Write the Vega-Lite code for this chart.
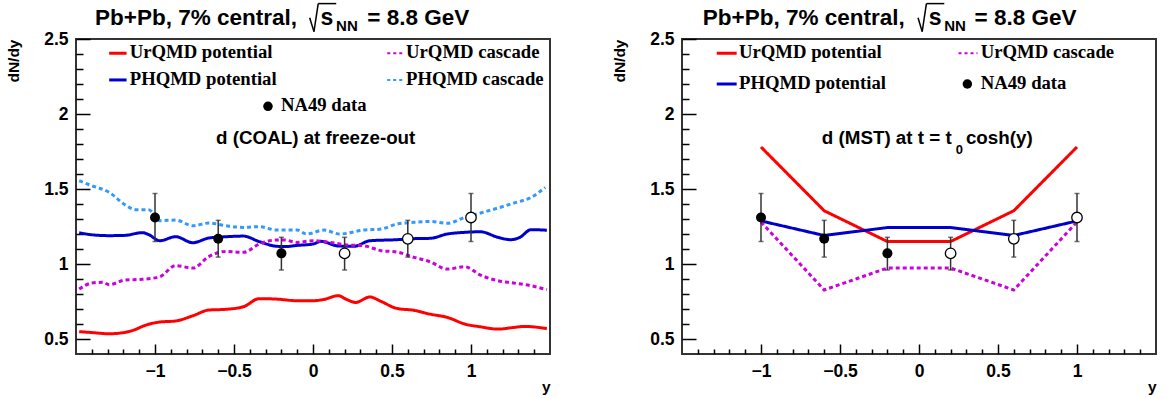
{
  "$schema": "https://vega.github.io/schema/vega-lite/v6.json",
  "padding": {"left": 5, "top": 1, "right": 5, "bottom": 2},
  "spacing": 57,
  "config": {
    "view": {"stroke": "#333", "strokeWidth": 2},
    "axis": {"domain": false, "grid": false, "ticks": true, "zindex": 1, "tickColor": "black", "tickWidth": 1.5, "labelFont": "Liberation Sans", "labelFontWeight": "bold", "labelFontSize": 17.5, "labelColor": "black", "titleFont": "Liberation Sans", "titleFontWeight": "bold", "titleColor": "black", "titleFontSize": 15.5, "labelBound": false, "labelFlush": false},
    "text": {"font": "Liberation Sans", "fontWeight": "bold", "color": "black", "baseline": "alphabetic"}
  },
  "datasets": {
    "curves": [
      {"panel": "COAL", "model": "UrQMD potential", "rapidity": -1.48, "dNdy": 0.549},
      {"panel": "COAL", "model": "UrQMD potential", "rapidity": -1.40, "dNdy": 0.543},
      {"panel": "COAL", "model": "UrQMD potential", "rapidity": -1.29, "dNdy": 0.535},
      {"panel": "COAL", "model": "UrQMD potential", "rapidity": -1.19, "dNdy": 0.544},
      {"panel": "COAL", "model": "UrQMD potential", "rapidity": -1.12, "dNdy": 0.565},
      {"panel": "COAL", "model": "UrQMD potential", "rapidity": -1.08, "dNdy": 0.584},
      {"panel": "COAL", "model": "UrQMD potential", "rapidity": -0.97, "dNdy": 0.613},
      {"panel": "COAL", "model": "UrQMD potential", "rapidity": -0.87, "dNdy": 0.620},
      {"panel": "COAL", "model": "UrQMD potential", "rapidity": -0.76, "dNdy": 0.655},
      {"panel": "COAL", "model": "UrQMD potential", "rapidity": -0.66, "dNdy": 0.693},
      {"panel": "COAL", "model": "UrQMD potential", "rapidity": -0.55, "dNdy": 0.698},
      {"panel": "COAL", "model": "UrQMD potential", "rapidity": -0.44, "dNdy": 0.715},
      {"panel": "COAL", "model": "UrQMD potential", "rapidity": -0.34, "dNdy": 0.769},
      {"panel": "COAL", "model": "UrQMD potential", "rapidity": -0.23, "dNdy": 0.766},
      {"panel": "COAL", "model": "UrQMD potential", "rapidity": -0.10, "dNdy": 0.755},
      {"panel": "COAL", "model": "UrQMD potential", "rapidity": 0.00, "dNdy": 0.755},
      {"panel": "COAL", "model": "UrQMD potential", "rapidity": 0.07, "dNdy": 0.764},
      {"panel": "COAL", "model": "UrQMD potential", "rapidity": 0.16, "dNdy": 0.789},
      {"panel": "COAL", "model": "UrQMD potential", "rapidity": 0.21, "dNdy": 0.765},
      {"panel": "COAL", "model": "UrQMD potential", "rapidity": 0.27, "dNdy": 0.744},
      {"panel": "COAL", "model": "UrQMD potential", "rapidity": 0.36, "dNdy": 0.780},
      {"panel": "COAL", "model": "UrQMD potential", "rapidity": 0.43, "dNdy": 0.751},
      {"panel": "COAL", "model": "UrQMD potential", "rapidity": 0.53, "dNdy": 0.704},
      {"panel": "COAL", "model": "UrQMD potential", "rapidity": 0.64, "dNdy": 0.691},
      {"panel": "COAL", "model": "UrQMD potential", "rapidity": 0.74, "dNdy": 0.666},
      {"panel": "COAL", "model": "UrQMD potential", "rapidity": 0.85, "dNdy": 0.644},
      {"panel": "COAL", "model": "UrQMD potential", "rapidity": 0.96, "dNdy": 0.600},
      {"panel": "COAL", "model": "UrQMD potential", "rapidity": 1.06, "dNdy": 0.581},
      {"panel": "COAL", "model": "UrQMD potential", "rapidity": 1.17, "dNdy": 0.566},
      {"panel": "COAL", "model": "UrQMD potential", "rapidity": 1.27, "dNdy": 0.577},
      {"panel": "COAL", "model": "UrQMD potential", "rapidity": 1.34, "dNdy": 0.584},
      {"panel": "COAL", "model": "UrQMD potential", "rapidity": 1.48, "dNdy": 0.569},

      {"panel": "COAL", "model": "PHQMD potential", "rapidity": -1.48, "dNdy": 1.208},
      {"panel": "COAL", "model": "PHQMD potential", "rapidity": -1.40, "dNdy": 1.195},
      {"panel": "COAL", "model": "PHQMD potential", "rapidity": -1.29, "dNdy": 1.189},
      {"panel": "COAL", "model": "PHQMD potential", "rapidity": -1.19, "dNdy": 1.191},
      {"panel": "COAL", "model": "PHQMD potential", "rapidity": -1.08, "dNdy": 1.209},
      {"panel": "COAL", "model": "PHQMD potential", "rapidity": -1.04, "dNdy": 1.196},
      {"panel": "COAL", "model": "PHQMD potential", "rapidity": -0.97, "dNdy": 1.155},
      {"panel": "COAL", "model": "PHQMD potential", "rapidity": -0.87, "dNdy": 1.182},
      {"panel": "COAL", "model": "PHQMD potential", "rapidity": -0.76, "dNdy": 1.142},
      {"panel": "COAL", "model": "PHQMD potential", "rapidity": -0.66, "dNdy": 1.173},
      {"panel": "COAL", "model": "PHQMD potential", "rapidity": -0.55, "dNdy": 1.182},
      {"panel": "COAL", "model": "PHQMD potential", "rapidity": -0.44, "dNdy": 1.186},
      {"panel": "COAL", "model": "PHQMD potential", "rapidity": -0.34, "dNdy": 1.149},
      {"panel": "COAL", "model": "PHQMD potential", "rapidity": -0.23, "dNdy": 1.118},
      {"panel": "COAL", "model": "PHQMD potential", "rapidity": -0.18, "dNdy": 1.116},
      {"panel": "COAL", "model": "PHQMD potential", "rapidity": -0.10, "dNdy": 1.124},
      {"panel": "COAL", "model": "PHQMD potential", "rapidity": 0.00, "dNdy": 1.133},
      {"panel": "COAL", "model": "PHQMD potential", "rapidity": 0.05, "dNdy": 1.151},
      {"panel": "COAL", "model": "PHQMD potential", "rapidity": 0.16, "dNdy": 1.120},
      {"panel": "COAL", "model": "PHQMD potential", "rapidity": 0.26, "dNdy": 1.118},
      {"panel": "COAL", "model": "PHQMD potential", "rapidity": 0.36, "dNdy": 1.155},
      {"panel": "COAL", "model": "PHQMD potential", "rapidity": 0.53, "dNdy": 1.162},
      {"panel": "COAL", "model": "PHQMD potential", "rapidity": 0.64, "dNdy": 1.169},
      {"panel": "COAL", "model": "PHQMD potential", "rapidity": 0.74, "dNdy": 1.171},
      {"panel": "COAL", "model": "PHQMD potential", "rapidity": 0.85, "dNdy": 1.200},
      {"panel": "COAL", "model": "PHQMD potential", "rapidity": 0.96, "dNdy": 1.211},
      {"panel": "COAL", "model": "PHQMD potential", "rapidity": 1.06, "dNdy": 1.215},
      {"panel": "COAL", "model": "PHQMD potential", "rapidity": 1.17, "dNdy": 1.178},
      {"panel": "COAL", "model": "PHQMD potential", "rapidity": 1.25, "dNdy": 1.162},
      {"panel": "COAL", "model": "PHQMD potential", "rapidity": 1.31, "dNdy": 1.178},
      {"panel": "COAL", "model": "PHQMD potential", "rapidity": 1.38, "dNdy": 1.229},
      {"panel": "COAL", "model": "PHQMD potential", "rapidity": 1.48, "dNdy": 1.225},

      {"panel": "COAL", "model": "UrQMD cascade", "rapidity": -1.48, "dNdy": 0.833},
      {"panel": "COAL", "model": "UrQMD cascade", "rapidity": -1.40, "dNdy": 0.873},
      {"panel": "COAL", "model": "UrQMD cascade", "rapidity": -1.33, "dNdy": 0.878},
      {"panel": "COAL", "model": "UrQMD cascade", "rapidity": -1.29, "dNdy": 0.862},
      {"panel": "COAL", "model": "UrQMD cascade", "rapidity": -1.19, "dNdy": 0.893},
      {"panel": "COAL", "model": "UrQMD cascade", "rapidity": -1.08, "dNdy": 0.898},
      {"panel": "COAL", "model": "UrQMD cascade", "rapidity": -0.97, "dNdy": 0.915},
      {"panel": "COAL", "model": "UrQMD cascade", "rapidity": -0.87, "dNdy": 0.989},
      {"panel": "COAL", "model": "UrQMD cascade", "rapidity": -0.76, "dNdy": 0.973},
      {"panel": "COAL", "model": "UrQMD cascade", "rapidity": -0.66, "dNdy": 1.049},
      {"panel": "COAL", "model": "UrQMD cascade", "rapidity": -0.55, "dNdy": 1.084},
      {"panel": "COAL", "model": "UrQMD cascade", "rapidity": -0.44, "dNdy": 1.078},
      {"panel": "COAL", "model": "UrQMD cascade", "rapidity": -0.34, "dNdy": 1.133},
      {"panel": "COAL", "model": "UrQMD cascade", "rapidity": -0.23, "dNdy": 1.160},
      {"panel": "COAL", "model": "UrQMD cascade", "rapidity": -0.18, "dNdy": 1.160},
      {"panel": "COAL", "model": "UrQMD cascade", "rapidity": -0.10, "dNdy": 1.144},
      {"panel": "COAL", "model": "UrQMD cascade", "rapidity": 0.00, "dNdy": 1.155},
      {"panel": "COAL", "model": "UrQMD cascade", "rapidity": 0.11, "dNdy": 1.144},
      {"panel": "COAL", "model": "UrQMD cascade", "rapidity": 0.21, "dNdy": 1.127},
      {"panel": "COAL", "model": "UrQMD cascade", "rapidity": 0.32, "dNdy": 1.122},
      {"panel": "COAL", "model": "UrQMD cascade", "rapidity": 0.43, "dNdy": 1.089},
      {"panel": "COAL", "model": "UrQMD cascade", "rapidity": 0.53, "dNdy": 1.080},
      {"panel": "COAL", "model": "UrQMD cascade", "rapidity": 0.64, "dNdy": 1.044},
      {"panel": "COAL", "model": "UrQMD cascade", "rapidity": 0.74, "dNdy": 1.015},
      {"panel": "COAL", "model": "UrQMD cascade", "rapidity": 0.85, "dNdy": 0.966},
      {"panel": "COAL", "model": "UrQMD cascade", "rapidity": 0.96, "dNdy": 0.982},
      {"panel": "COAL", "model": "UrQMD cascade", "rapidity": 1.06, "dNdy": 0.926},
      {"panel": "COAL", "model": "UrQMD cascade", "rapidity": 1.17, "dNdy": 0.889},
      {"panel": "COAL", "model": "UrQMD cascade", "rapidity": 1.27, "dNdy": 0.873},
      {"panel": "COAL", "model": "UrQMD cascade", "rapidity": 1.38, "dNdy": 0.855},
      {"panel": "COAL", "model": "UrQMD cascade", "rapidity": 1.48, "dNdy": 0.829},

      {"panel": "COAL", "model": "PHQMD cascade", "rapidity": -1.48, "dNdy": 1.555},
      {"panel": "COAL", "model": "PHQMD cascade", "rapidity": -1.40, "dNdy": 1.522},
      {"panel": "COAL", "model": "PHQMD cascade", "rapidity": -1.29, "dNdy": 1.478},
      {"panel": "COAL", "model": "PHQMD cascade", "rapidity": -1.19, "dNdy": 1.395},
      {"panel": "COAL", "model": "PHQMD cascade", "rapidity": -1.12, "dNdy": 1.362},
      {"panel": "COAL", "model": "PHQMD cascade", "rapidity": -1.04, "dNdy": 1.362},
      {"panel": "COAL", "model": "PHQMD cascade", "rapidity": -0.97, "dNdy": 1.289},
      {"panel": "COAL", "model": "PHQMD cascade", "rapidity": -0.87, "dNdy": 1.293},
      {"panel": "COAL", "model": "PHQMD cascade", "rapidity": -0.76, "dNdy": 1.255},
      {"panel": "COAL", "model": "PHQMD cascade", "rapidity": -0.66, "dNdy": 1.273},
      {"panel": "COAL", "model": "PHQMD cascade", "rapidity": -0.55, "dNdy": 1.255},
      {"panel": "COAL", "model": "PHQMD cascade", "rapidity": -0.44, "dNdy": 1.244},
      {"panel": "COAL", "model": "PHQMD cascade", "rapidity": -0.34, "dNdy": 1.249},
      {"panel": "COAL", "model": "PHQMD cascade", "rapidity": -0.23, "dNdy": 1.226},
      {"panel": "COAL", "model": "PHQMD cascade", "rapidity": -0.10, "dNdy": 1.226},
      {"panel": "COAL", "model": "PHQMD cascade", "rapidity": -0.04, "dNdy": 1.200},
      {"panel": "COAL", "model": "PHQMD cascade", "rapidity": 0.07, "dNdy": 1.226},
      {"panel": "COAL", "model": "PHQMD cascade", "rapidity": 0.17, "dNdy": 1.200},
      {"panel": "COAL", "model": "PHQMD cascade", "rapidity": 0.32, "dNdy": 1.226},
      {"panel": "COAL", "model": "PHQMD cascade", "rapidity": 0.43, "dNdy": 1.233},
      {"panel": "COAL", "model": "PHQMD cascade", "rapidity": 0.53, "dNdy": 1.266},
      {"panel": "COAL", "model": "PHQMD cascade", "rapidity": 0.64, "dNdy": 1.278},
      {"panel": "COAL", "model": "PHQMD cascade", "rapidity": 0.74, "dNdy": 1.284},
      {"panel": "COAL", "model": "PHQMD cascade", "rapidity": 0.85, "dNdy": 1.271},
      {"panel": "COAL", "model": "PHQMD cascade", "rapidity": 0.96, "dNdy": 1.311},
      {"panel": "COAL", "model": "PHQMD cascade", "rapidity": 1.06, "dNdy": 1.340},
      {"panel": "COAL", "model": "PHQMD cascade", "rapidity": 1.17, "dNdy": 1.373},
      {"panel": "COAL", "model": "PHQMD cascade", "rapidity": 1.27, "dNdy": 1.406},
      {"panel": "COAL", "model": "PHQMD cascade", "rapidity": 1.38, "dNdy": 1.444},
      {"panel": "COAL", "model": "PHQMD cascade", "rapidity": 1.47, "dNdy": 1.511},

      {"panel": "MST", "model": "UrQMD potential", "rapidity": -1.0, "dNdy": 1.78},
      {"panel": "MST", "model": "UrQMD potential", "rapidity": -0.6, "dNdy": 1.355},
      {"panel": "MST", "model": "UrQMD potential", "rapidity": -0.2, "dNdy": 1.15},
      {"panel": "MST", "model": "UrQMD potential", "rapidity": 0.2, "dNdy": 1.15},
      {"panel": "MST", "model": "UrQMD potential", "rapidity": 0.6, "dNdy": 1.355},
      {"panel": "MST", "model": "UrQMD potential", "rapidity": 1.0, "dNdy": 1.78},
      {"panel": "MST", "model": "PHQMD potential", "rapidity": -1.0, "dNdy": 1.287},
      {"panel": "MST", "model": "PHQMD potential", "rapidity": -0.6, "dNdy": 1.19},
      {"panel": "MST", "model": "PHQMD potential", "rapidity": -0.2, "dNdy": 1.243},
      {"panel": "MST", "model": "PHQMD potential", "rapidity": 0.2, "dNdy": 1.243},
      {"panel": "MST", "model": "PHQMD potential", "rapidity": 0.6, "dNdy": 1.19},
      {"panel": "MST", "model": "PHQMD potential", "rapidity": 1.0, "dNdy": 1.287},
      {"panel": "MST", "model": "UrQMD cascade", "rapidity": -1.0, "dNdy": 1.28},
      {"panel": "MST", "model": "UrQMD cascade", "rapidity": -0.6, "dNdy": 0.827},
      {"panel": "MST", "model": "UrQMD cascade", "rapidity": -0.2, "dNdy": 0.973},
      {"panel": "MST", "model": "UrQMD cascade", "rapidity": 0.2, "dNdy": 0.973},
      {"panel": "MST", "model": "UrQMD cascade", "rapidity": 0.6, "dNdy": 0.827},
      {"panel": "MST", "model": "UrQMD cascade", "rapidity": 1.0, "dNdy": 1.28}
    ],
    "na49": [
      {"rapidity": -1.0, "dNdy": 1.31, "lo": 1.15, "hi": 1.47, "kind": "measured"},
      {"rapidity": -0.6, "dNdy": 1.168, "lo": 1.046, "hi": 1.291, "kind": "measured"},
      {"rapidity": -0.2, "dNdy": 1.071, "lo": 0.96, "hi": 1.178, "kind": "measured"},
      {"rapidity": 0.2, "dNdy": 1.071, "lo": 0.96, "hi": 1.178, "kind": "reflected"},
      {"rapidity": 0.6, "dNdy": 1.168, "lo": 1.046, "hi": 1.291, "kind": "reflected"},
      {"rapidity": 1.0, "dNdy": 1.31, "lo": 1.15, "hi": 1.47, "kind": "reflected"}
    ]
  },
  "hconcat": [
    {
      "width": 474,
      "height": 315,
      "resolve": {"axis": {"x": "independent", "y": "independent"}},
      "layer": [
        {
          "data": {"name": "curves"},
          "transform": [{"filter": "datum.panel == 'COAL'"}],
          "mark": {"type": "line", "strokeWidth": 3, "interpolate": "monotone"},
          "encoding": {
            "x": {"field": "rapidity", "type": "quantitative", "scale": {"domain": [-1.5, 1.5], "nice": false, "zero": false},
              "axis": {"orient": "bottom", "title": "y", "titleAnchor": "end", "titleAlign": "right", "titlePadding": 0, "format": "~g",
                "values": [-1, -0.5, 0, 0.5, 1], "tickSize": -10, "labelPadding": 18}},
            "y": {"field": "dNdy", "type": "quantitative", "scale": {"domain": [0.4, 2.5], "nice": false, "zero": false},
              "axis": {"orient": "left", "title": "dN/dy", "titleAnchor": "end", "titlePadding": 22, "format": "~g",
                "values": [0.5, 1, 1.5, 2, 2.5], "tickSize": -14, "labelPadding": 22}},
            "color": {"field": "model", "type": "nominal", "legend": null,
              "scale": {"domain": ["UrQMD potential", "UrQMD cascade", "PHQMD potential", "PHQMD cascade"], "range": ["#ff0000", "#cc00dd", "#0000cc", "#3399ff"]}},
            "strokeDash": {"field": "model", "type": "nominal", "legend": null,
              "scale": {"domain": ["UrQMD potential", "UrQMD cascade", "PHQMD potential", "PHQMD cascade"], "range": [[1, 0], [4, 3], [1, 0], [4, 3]]}}
          }
        },
        {
          "data": {"name": "na49"},
          "mark": {"type": "rule", "color": "#333", "strokeWidth": 1.5},
          "encoding": {
            "x": {"field": "rapidity", "type": "quantitative",
              "axis": {"orient": "bottom", "title": null, "labels": false, "tickSize": -5,
                "values": [-1.4, -1.3, -1.2, -1.1, -0.9, -0.8, -0.7, -0.6, -0.4, -0.3, -0.2, -0.1, 0.1, 0.2, 0.3, 0.4, 0.6, 0.7, 0.8, 0.9, 1.1, 1.2, 1.3, 1.4]}},
            "y": {"field": "lo", "type": "quantitative",
              "axis": {"orient": "left", "title": null, "labels": false, "tickSize": -7,
                "values": [0.6, 0.7, 0.8, 0.9, 1.1, 1.2, 1.3, 1.4, 1.6, 1.7, 1.8, 1.9, 2.1, 2.2, 2.3, 2.4]}},
            "y2": {"field": "hi"}
          }
        },
        {
          "data": {"name": "na49"},
          "mark": {"type": "tick", "color": "#333", "orient": "horizontal", "size": 5, "thickness": 1.5},
          "encoding": {"x": {"field": "rapidity", "type": "quantitative", "axis": null}, "y": {"field": "lo", "type": "quantitative", "axis": null}}
        },
        {
          "data": {"name": "na49"},
          "mark": {"type": "tick", "color": "#333", "orient": "horizontal", "size": 5, "thickness": 1.5},
          "encoding": {"x": {"field": "rapidity", "type": "quantitative", "axis": null}, "y": {"field": "hi", "type": "quantitative", "axis": null}}
        },
        {
          "data": {"name": "na49"},
          "transform": [{"filter": "datum.kind == 'measured'"}],
          "mark": {"type": "circle", "color": "black", "opacity": 1, "size": 100},
          "encoding": {"x": {"field": "rapidity", "type": "quantitative", "axis": null}, "y": {"field": "dNdy", "type": "quantitative", "axis": null}}
        },
        {
          "data": {"name": "na49"},
          "transform": [{"filter": "datum.kind == 'reflected'"}],
          "mark": {"type": "point", "shape": "circle", "filled": true, "fill": "white", "stroke": "black", "strokeWidth": 1.3, "opacity": 1, "size": 110},
          "encoding": {"x": {"field": "rapidity", "type": "quantitative", "axis": null}, "y": {"field": "dNdy", "type": "quantitative", "axis": null}}
        },
        {"data": {"values": [{}]}, "mark": {"type": "rule", "color": "#ff0000", "strokeWidth": 3}, "encoding": {"x": {"datum": -1.29, "axis": null}, "x2": {"datum": -1.18}, "y": {"datum": 2.405, "axis": null}}},
        {"data": {"values": [{}]}, "mark": {"type": "rule", "color": "#0000cc", "strokeWidth": 3}, "encoding": {"x": {"datum": -1.29, "axis": null}, "x2": {"datum": -1.18}, "y": {"datum": 2.227, "axis": null}}},
        {"data": {"values": [{}]}, "mark": {"type": "rule", "color": "#cc00dd", "strokeWidth": 2, "strokeDash": [3, 3]}, "encoding": {"x": {"datum": 0.47, "axis": null}, "x2": {"datum": 0.565}, "y": {"datum": 2.405, "axis": null}}},
        {"data": {"values": [{}]}, "mark": {"type": "rule", "color": "#3399ff", "strokeWidth": 2, "strokeDash": [3, 3]}, "encoding": {"x": {"datum": 0.47, "axis": null}, "x2": {"datum": 0.565}, "y": {"datum": 2.227, "axis": null}}},
        {"data": {"values": [{}]}, "mark": {"type": "circle", "color": "black", "opacity": 1, "size": 90}, "encoding": {"x": {"datum": -0.285, "axis": null}, "y": {"datum": 2.051, "axis": null}}},
        {"data": {"values": [{}]}, "mark": {"type": "text", "font": "Liberation Serif", "fontSize": 18.7, "align": "left"}, "encoding": {"x": {"datum": -1.16, "axis": null}, "y": {"datum": 2.371, "axis": null}, "text": {"value": "UrQMD potential"}}},
        {"data": {"values": [{}]}, "mark": {"type": "text", "font": "Liberation Serif", "fontSize": 18.7, "align": "left"}, "encoding": {"x": {"datum": -1.16, "axis": null}, "y": {"datum": 2.193, "axis": null}, "text": {"value": "PHQMD potential"}}},
        {"data": {"values": [{}]}, "mark": {"type": "text", "font": "Liberation Serif", "fontSize": 18.7, "align": "left"}, "encoding": {"x": {"datum": 0.589, "axis": null}, "y": {"datum": 2.371, "axis": null}, "text": {"value": "UrQMD cascade"}}},
        {"data": {"values": [{}]}, "mark": {"type": "text", "font": "Liberation Serif", "fontSize": 18.7, "align": "left"}, "encoding": {"x": {"datum": 0.589, "axis": null}, "y": {"datum": 2.193, "axis": null}, "text": {"value": "PHQMD cascade"}}},
        {"data": {"values": [{}]}, "mark": {"type": "text", "font": "Liberation Serif", "fontSize": 18.7, "align": "left"}, "encoding": {"x": {"datum": -0.203, "axis": null}, "y": {"datum": 2.02, "axis": null}, "text": {"value": "NA49 data"}}},
        {"data": {"values": [{}]}, "mark": {"type": "text", "fontSize": 18.8, "align": "center"}, "encoding": {"x": {"datum": 0.017, "axis": null}, "y": {"datum": 1.798, "axis": null}, "text": {"value": "d (COAL) at freeze-out"}}},
        {"data": {"values": [{}]}, "mark": {"type": "text", "fontSize": 22.5, "align": "right"}, "encoding": {"x": {"datum": -0.101, "axis": null}, "y": {"datum": 2.593, "axis": null}, "text": {"value": "Pb+Pb, 7% central,"}}},
        {"data": {"values": [{}]}, "mark": {"type": "rule", "color": "black", "strokeWidth": 1.5}, "encoding": {"x": {"datum": -0.021, "axis": null}, "y": {"datum": 2.642, "axis": null}, "x2": {"datum": 0.006}, "y2": {"datum": 2.549}}},
        {"data": {"values": [{}]}, "mark": {"type": "rule", "color": "black", "strokeWidth": 1.5}, "encoding": {"x": {"datum": 0.006, "axis": null}, "y": {"datum": 2.549, "axis": null}, "x2": {"datum": 0.033}, "y2": {"datum": 2.736}}},
        {"data": {"values": [{}]}, "mark": {"type": "rule", "color": "black", "strokeWidth": 1.5}, "encoding": {"x": {"datum": 0.033, "axis": null}, "y": {"datum": 2.736, "axis": null}, "x2": {"datum": 0.147}, "y2": {"datum": 2.736}}},
        {"data": {"values": [{}]}, "mark": {"type": "text", "fontSize": 23, "align": "center"}, "encoding": {"x": {"datum": 0.088, "axis": null}, "y": {"datum": 2.593, "axis": null}, "text": {"value": "s"}}},
        {"data": {"values": [{}]}, "mark": {"type": "text", "fontSize": 15, "align": "left"}, "encoding": {"x": {"datum": 0.146, "axis": null}, "y": {"datum": 2.553, "axis": null}, "text": {"value": "NN"}}},
        {"data": {"values": [{}]}, "mark": {"type": "text", "fontSize": 22.5, "align": "left"}, "encoding": {"x": {"datum": 0.344, "axis": null}, "y": {"datum": 2.593, "axis": null}, "text": {"value": "= 8.8 GeV"}}}
      ]
    },
    {
      "width": 474,
      "height": 315,
      "resolve": {"axis": {"x": "independent", "y": "independent"}},
      "layer": [
        {
          "data": {"name": "curves"},
          "transform": [{"filter": "datum.panel == 'MST'"}],
          "mark": {"type": "line", "strokeWidth": 3},
          "encoding": {
            "x": {"field": "rapidity", "type": "quantitative", "scale": {"domain": [-1.5, 1.5], "nice": false, "zero": false},
              "axis": {"orient": "bottom", "title": "y", "titleAnchor": "end", "titleAlign": "right", "titlePadding": 0, "format": "~g",
                "values": [-1, -0.5, 0, 0.5, 1], "tickSize": -10, "labelPadding": 18}},
            "y": {"field": "dNdy", "type": "quantitative", "scale": {"domain": [0.4, 2.5], "nice": false, "zero": false},
              "axis": {"orient": "left", "title": "dN/dy", "titleAnchor": "end", "titlePadding": 22, "format": "~g",
                "values": [0.5, 1, 1.5, 2, 2.5], "tickSize": -14, "labelPadding": 22}},
            "color": {"field": "model", "type": "nominal", "legend": null,
              "scale": {"domain": ["UrQMD potential", "UrQMD cascade", "PHQMD potential", "PHQMD cascade"], "range": ["#ff0000", "#cc00dd", "#0000cc", "#3399ff"]}},
            "strokeDash": {"field": "model", "type": "nominal", "legend": null,
              "scale": {"domain": ["UrQMD potential", "UrQMD cascade", "PHQMD potential", "PHQMD cascade"], "range": [[1, 0], [4, 3], [1, 0], [4, 3]]}}
          }
        },
        {
          "data": {"name": "na49"},
          "mark": {"type": "rule", "color": "#333", "strokeWidth": 1.5},
          "encoding": {
            "x": {"field": "rapidity", "type": "quantitative",
              "axis": {"orient": "bottom", "title": null, "labels": false, "tickSize": -5,
                "values": [-1.4, -1.3, -1.2, -1.1, -0.9, -0.8, -0.7, -0.6, -0.4, -0.3, -0.2, -0.1, 0.1, 0.2, 0.3, 0.4, 0.6, 0.7, 0.8, 0.9, 1.1, 1.2, 1.3, 1.4]}},
            "y": {"field": "lo", "type": "quantitative",
              "axis": {"orient": "left", "title": null, "labels": false, "tickSize": -7,
                "values": [0.6, 0.7, 0.8, 0.9, 1.1, 1.2, 1.3, 1.4, 1.6, 1.7, 1.8, 1.9, 2.1, 2.2, 2.3, 2.4]}},
            "y2": {"field": "hi"}
          }
        },
        {
          "data": {"name": "na49"},
          "mark": {"type": "tick", "color": "#333", "orient": "horizontal", "size": 5, "thickness": 1.5},
          "encoding": {"x": {"field": "rapidity", "type": "quantitative", "axis": null}, "y": {"field": "lo", "type": "quantitative", "axis": null}}
        },
        {
          "data": {"name": "na49"},
          "mark": {"type": "tick", "color": "#333", "orient": "horizontal", "size": 5, "thickness": 1.5},
          "encoding": {"x": {"field": "rapidity", "type": "quantitative", "axis": null}, "y": {"field": "hi", "type": "quantitative", "axis": null}}
        },
        {
          "data": {"name": "na49"},
          "transform": [{"filter": "datum.kind == 'measured'"}],
          "mark": {"type": "circle", "color": "black", "opacity": 1, "size": 100},
          "encoding": {"x": {"field": "rapidity", "type": "quantitative", "axis": null}, "y": {"field": "dNdy", "type": "quantitative", "axis": null}}
        },
        {
          "data": {"name": "na49"},
          "transform": [{"filter": "datum.kind == 'reflected'"}],
          "mark": {"type": "point", "shape": "circle", "filled": true, "fill": "white", "stroke": "black", "strokeWidth": 1.3, "opacity": 1, "size": 110},
          "encoding": {"x": {"field": "rapidity", "type": "quantitative", "axis": null}, "y": {"field": "dNdy", "type": "quantitative", "axis": null}}
        },
        {"data": {"values": [{}]}, "mark": {"type": "rule", "color": "#ff0000", "strokeWidth": 3}, "encoding": {"x": {"datum": -1.28, "axis": null}, "x2": {"datum": -1.154}, "y": {"datum": 2.405, "axis": null}}},
        {"data": {"values": [{}]}, "mark": {"type": "rule", "color": "#0000cc", "strokeWidth": 3}, "encoding": {"x": {"datum": -1.28, "axis": null}, "x2": {"datum": -1.154}, "y": {"datum": 2.2, "axis": null}}},
        {"data": {"values": [{}]}, "mark": {"type": "rule", "color": "#cc00dd", "strokeWidth": 2, "strokeDash": [3, 3]}, "encoding": {"x": {"datum": 0.25, "axis": null}, "x2": {"datum": 0.37}, "y": {"datum": 2.405, "axis": null}}},
        {"data": {"values": [{}]}, "mark": {"type": "circle", "color": "black", "opacity": 1, "size": 90}, "encoding": {"x": {"datum": 0.306, "axis": null}, "y": {"datum": 2.2, "axis": null}}},
        {"data": {"values": [{}]}, "mark": {"type": "text", "font": "Liberation Serif", "fontSize": 18.7, "align": "left"}, "encoding": {"x": {"datum": -1.139, "axis": null}, "y": {"datum": 2.371, "axis": null}, "text": {"value": "UrQMD potential"}}},
        {"data": {"values": [{}]}, "mark": {"type": "text", "font": "Liberation Serif", "fontSize": 18.7, "align": "left"}, "encoding": {"x": {"datum": -1.139, "axis": null}, "y": {"datum": 2.166, "axis": null}, "text": {"value": "PHQMD potential"}}},
        {"data": {"values": [{}]}, "mark": {"type": "text", "font": "Liberation Serif", "fontSize": 18.7, "align": "left"}, "encoding": {"x": {"datum": 0.391, "axis": null}, "y": {"datum": 2.371, "axis": null}, "text": {"value": "UrQMD cascade"}}},
        {"data": {"values": [{}]}, "mark": {"type": "text", "font": "Liberation Serif", "fontSize": 18.7, "align": "left"}, "encoding": {"x": {"datum": 0.391, "axis": null}, "y": {"datum": 2.166, "axis": null}, "text": {"value": "NA49 data"}}},
        {"data": {"values": [{}]}, "mark": {"type": "text", "fontSize": 18.8, "align": "right"}, "encoding": {"x": {"datum": 0.207, "axis": null}, "y": {"datum": 1.798, "axis": null}, "text": {"value": "d (MST) at t = t"}}},
        {"data": {"values": [{}]}, "mark": {"type": "text", "fontSize": 13, "align": "left"}, "encoding": {"x": {"datum": 0.232, "axis": null}, "y": {"datum": 1.735, "axis": null}, "text": {"value": "0"}}},
        {"data": {"values": [{}]}, "mark": {"type": "text", "fontSize": 18.8, "align": "left"}, "encoding": {"x": {"datum": 0.297, "axis": null}, "y": {"datum": 1.798, "axis": null}, "text": {"value": "cosh(y)"}}},
        {"data": {"values": [{}]}, "mark": {"type": "text", "fontSize": 22.5, "align": "right"}, "encoding": {"x": {"datum": -0.09, "axis": null}, "y": {"datum": 2.593, "axis": null}, "text": {"value": "Pb+Pb, 7% central,"}}},
        {"data": {"values": [{}]}, "mark": {"type": "rule", "color": "black", "strokeWidth": 1.5}, "encoding": {"x": {"datum": -0.006, "axis": null}, "y": {"datum": 2.642, "axis": null}, "x2": {"datum": 0.02}, "y2": {"datum": 2.549}}},
        {"data": {"values": [{}]}, "mark": {"type": "rule", "color": "black", "strokeWidth": 1.5}, "encoding": {"x": {"datum": 0.02, "axis": null}, "y": {"datum": 2.549, "axis": null}, "x2": {"datum": 0.047}, "y2": {"datum": 2.736}}},
        {"data": {"values": [{}]}, "mark": {"type": "rule", "color": "black", "strokeWidth": 1.5}, "encoding": {"x": {"datum": 0.047, "axis": null}, "y": {"datum": 2.736, "axis": null}, "x2": {"datum": 0.16}, "y2": {"datum": 2.736}}},
        {"data": {"values": [{}]}, "mark": {"type": "text", "fontSize": 23, "align": "center"}, "encoding": {"x": {"datum": 0.102, "axis": null}, "y": {"datum": 2.593, "axis": null}, "text": {"value": "s"}}},
        {"data": {"values": [{}]}, "mark": {"type": "text", "fontSize": 15, "align": "left"}, "encoding": {"x": {"datum": 0.16, "axis": null}, "y": {"datum": 2.553, "axis": null}, "text": {"value": "NN"}}},
        {"data": {"values": [{}]}, "mark": {"type": "text", "fontSize": 22.5, "align": "left"}, "encoding": {"x": {"datum": 0.352, "axis": null}, "y": {"datum": 2.593, "axis": null}, "text": {"value": "= 8.8 GeV"}}}
      ]
    }
  ]
}
